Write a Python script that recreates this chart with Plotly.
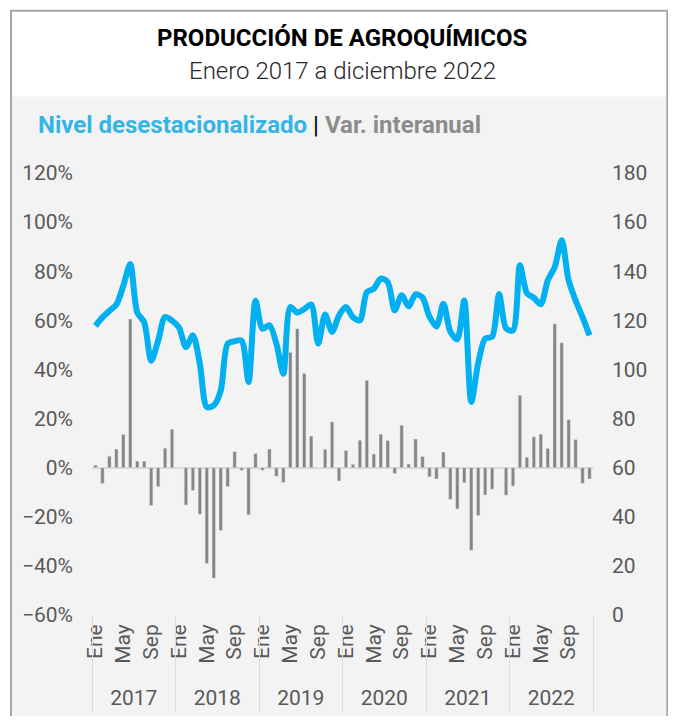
import numpy as np
import plotly.graph_objects as go

# ---------------- data ----------------
YEARS = ["2017", "2018", "2019", "2020", "2021", "2022"]
MONTHS = ["Ene", "Feb", "Mar", "Abr", "May", "Jun", "Jul", "Ago", "Sep", "Oct", "Nov", "Dic"]
SHOWN_MONTHS = ["Ene", "May", "Sep"]

# Nivel desestacionalizado (eje derecho)
LEVEL_2017 = [117.8, 121.2, 123.9, 126.4, 134.1, 142.9, 123.2, 119.2, 103.6, 111.7, 121.4, 119.9]
LEVEL_2018 = [117.1, 109.1, 113.9, 102.3, 84.7, 85.4, 91.4, 110.5, 111.5, 111.7, 94.9, 128.0]
LEVEL_2019 = [116.6, 118.0, 110.5, 98.3, 125.4, 123.2, 124.6, 126.5, 110.5, 122.4, 115.3, 122.0]
LEVEL_2020 = [125.4, 121.3, 120.0, 131.5, 132.9, 137.0, 135.6, 124.1, 130.2, 125.7, 130.6, 129.3]
LEVEL_2021 = [121.5, 117.5, 126.8, 115.4, 112.3, 128.1, 86.8, 102.6, 112.6, 113.3, 130.7, 116.8]
LEVEL_2022 = [115.9, 142.4, 131.1, 129.2, 126.6, 136.3, 141.7, 152.6, 136.3, 128.1, 121.3, 113.9]

# Var. interanual (%, eje izquierdo)
VAR_2017 = [1.1, -6.4, 4.7, 7.6, 13.6, 60.6, 2.7, 2.7, -15.4, -7.7, 8.0, 15.7]
VAR_2018 = [0.0, -15.2, -9.3, -19.0, -39.0, -45.0, -25.6, -7.7, 6.6, -1.1, -19.2, 5.8]
VAR_2019 = [-1.1, 7.6, -3.5, -6.0, 47.0, 56.6, 38.4, 12.9, 0.0, 7.5, 18.7, -5.4]
VAR_2020 = [7.0, 1.4, 11.2, 35.6, 5.6, 13.7, 11.1, -2.4, 17.3, 1.5, 11.7, 4.6]
VAR_2021 = [-3.7, -4.6, 6.4, -12.9, -16.8, -6.1, -33.6, -19.5, -11.1, -8.8, 0.2, -11.2]
VAR_2022 = [-7.5, 29.5, 4.3, 12.6, 13.7, 7.9, 58.6, 50.9, 19.6, 11.5, -6.4, -4.6]

level = LEVEL_2017 + LEVEL_2018 + LEVEL_2019 + LEVEL_2020 + LEVEL_2021 + LEVEL_2022
var = VAR_2017 + VAR_2018 + VAR_2019 + VAR_2020 + VAR_2021 + VAR_2022
n = len(level)
idx = np.arange(n)
month_names = [MONTHS[i % 12] for i in range(n)]

m_tickvals = [i for i in range(n) if month_names[i] in SHOWN_MONTHS]
m_ticktext = [month_names[i] for i in m_tickvals]
y_tickvals = [12 * k + 5.5 for k in range(len(YEARS))]
div_vals = [12 * k - 0.5 for k in range(len(YEARS) + 1)]

# ---------------- geometry ----------------
# page coordinates (px) of the target; the page body adds an 8 px margin
OFF = 8
W, H = 660, 708
PL, PR = 92 - OFF, 593 - OFF        # plot area left / right (figure px)
PT, PB = 172.5 - OFF, 714 - OFF     # plot area top / bottom (figure px)
AX_B = 615 - OFF                    # bottom of the value axes


def fx(px):  # px given in page coordinates
    return (px - OFF - PL) / (PR - PL)


def fy(py):
    return (PB - (py - OFF)) / (PB - PT)


d = (PB - AX_B) / (PB - PT)
XR = [-0.5, n - 0.5]
GRAY_TXT = "#595959"
FONT = "Roboto"
TICK = dict(size=21, color=GRAY_TXT, family=FONT)

fig = go.Figure()
fig.add_trace(go.Bar(x=idx, y=var, marker_color="#868686", width=0.5,
                     xaxis="x", yaxis="y", showlegend=False, hoverinfo="skip"))
fig.add_trace(go.Scatter(x=idx, y=level, mode="lines",
                         line=dict(color="#00B0F0", width=6, shape="spline", smoothing=0.8),
                         xaxis="x", yaxis="y2", showlegend=False, hoverinfo="skip"))
fig.add_trace(go.Scatter(x=[], y=[], xaxis="x2", yaxis="y", showlegend=False, hoverinfo="skip"))
fig.add_trace(go.Scatter(x=[], y=[], xaxis="x3", yaxis="y", showlegend=False, hoverinfo="skip"))

fig.update_layout(
    width=W, height=H, autosize=False,
    margin=dict(l=PL, r=W - PR, t=PT, b=H - PB, pad=0, autoexpand=False),
    paper_bgcolor="white",
    plot_bgcolor="rgba(0,0,0,0)",
    font=dict(family=FONT, size=21, color=GRAY_TXT),
    xaxis=dict(range=XR, domain=[0, 1], anchor="y", tickmode="array",
               tickvals=m_tickvals, ticktext=m_ticktext, tickangle=-90,
               ticks="", showline=False, showgrid=False, zeroline=False,
               tickfont=TICK, ticklabelstandoff=4, automargin=False),
    xaxis2=dict(range=XR, overlaying="x", anchor="free", position=fy(683),
                tickmode="array", tickvals=y_tickvals, ticktext=YEARS,
                ticks="", showline=False, showgrid=False, zeroline=False,
                tickfont=TICK, automargin=False),
    xaxis3=dict(range=XR, overlaying="x", anchor="free", position=d,
                tickmode="array", tickvals=div_vals, ticks="outside",
                ticklen=97, tickwidth=1.2, tickcolor="#DCDCDC",
                showticklabels=False, showline=False, showgrid=False, zeroline=False,
                automargin=False),
    yaxis=dict(domain=[d, 1], range=[-60, 120], tickmode="linear", tick0=-60, dtick=20,
               ticksuffix="%", showgrid=False, showline=False, ticks="",
               zeroline=True, zerolinecolor="#D9D9D9", zerolinewidth=2,
               tickfont=TICK, ticklabelstandoff=18, automargin=False),
    yaxis2=dict(overlaying="y", side="right", range=[0, 180], tickmode="linear",
                tick0=0, dtick=20, showgrid=False, showline=False, ticks="", zeroline=False,
                tickfont=TICK, ticklabelstandoff=18, automargin=False),
    shapes=[
        dict(type="rect", xref="paper", yref="paper", layer="below",
             x0=fx(12), x1=fx(668), y0=fy(740), y1=fy(96),
             fillcolor="#F3F3F3", line=dict(width=0)),
        dict(type="rect", xref="paper", yref="paper", layer="above",
             x0=fx(11), x1=fx(667.3), y0=fy(760), y1=fy(10),
             fillcolor="rgba(0,0,0,0)", line=dict(color="#A6A6A6", width=2)),
    ],
    annotations=[
        dict(text="<b>PRODUCCIÓN DE AGROQUÍMICOS</b>", xref="paper", yref="paper",
             x=fx(342), y=fy(37), xanchor="center", yanchor="middle", showarrow=False,
             font=dict(family=FONT, size=24, color="#000000")),
        dict(text="Enero 2017 a diciembre 2022", xref="paper", yref="paper",
             x=fx(342), y=fy(70), xanchor="center", yanchor="middle", showarrow=False,
             font=dict(family=FONT, size=24, color="#262626", weight=300)),
        dict(text="<b><span style='color:#33B5E8'>Nivel desestacionalizado</span></b> "
                  "<span style='color:#000000'>|</span> "
                  "<b><span style='color:#8C8C8C'>Var. interanual</span></b>",
             xref="paper", yref="paper", x=fx(36), y=fy(124),
             xanchor="left", yanchor="middle", showarrow=False,
             font=dict(family=FONT, size=24)),
    ],
)

fig.write_html("out.html")
